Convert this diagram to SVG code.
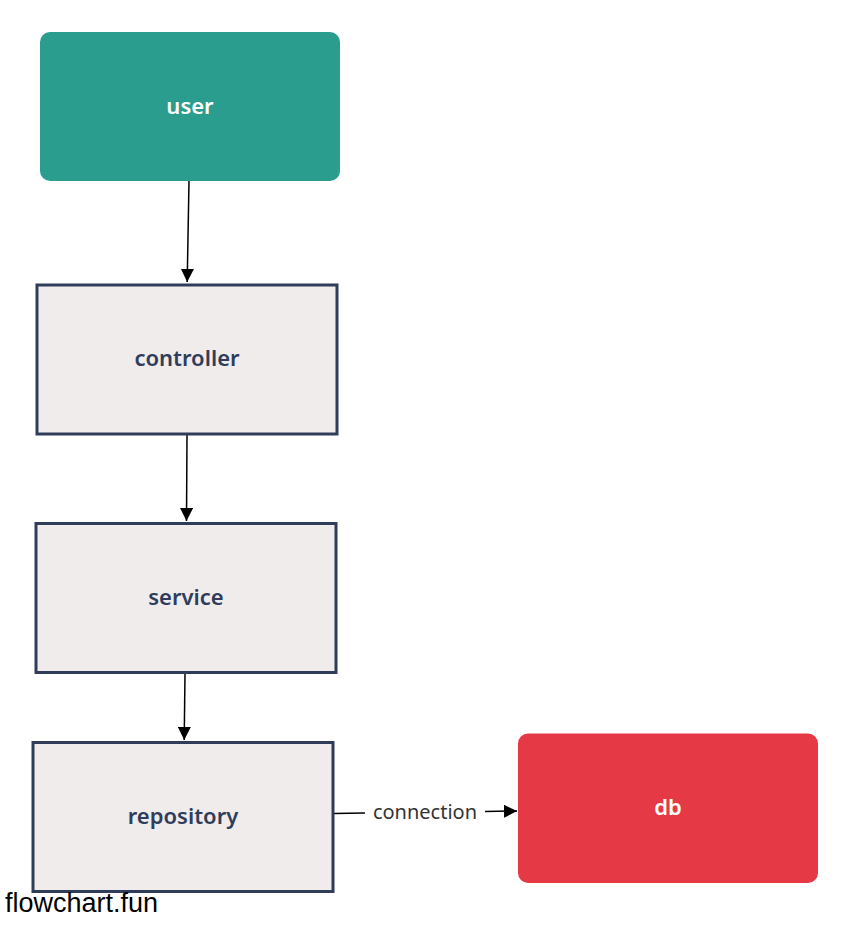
<svg xmlns="http://www.w3.org/2000/svg" width="850" height="925" viewBox="0 0 850 925">
<style>
.lbl{font-family:"Noto Sans","Open Sans",sans-serif;font-weight:600;font-size:22px;text-anchor:middle;dominant-baseline:central}
.box{fill:#f0ecec;stroke:#2f3d5a;stroke-width:3}
.edge{stroke:#000;stroke-width:1.5;fill:none}
</style>
<defs>
<marker id="ah" viewBox="0 0 10 10" refX="10" refY="5" markerWidth="13" markerHeight="13" markerUnits="userSpaceOnUse" orient="auto">
<path d="M0,0 L10,5 L0,10 z" fill="#000"/>
</marker>
</defs>
<rect width="850" height="925" fill="#fff"/>
<g id="edges">
<line class="edge" x1="189" y1="181" x2="187.2" y2="282" marker-end="url(#ah)"/>
<line class="edge" x1="187" y1="435" x2="186.5" y2="521" marker-end="url(#ah)"/>
<line class="edge" x1="185" y1="674" x2="184.2" y2="740" marker-end="url(#ah)"/>
<line class="edge" x1="334" y1="813.5" x2="365" y2="813"/>
<line class="edge" x1="485" y1="811.5" x2="517" y2="811" marker-end="url(#ah)"/>
<text x="425" y="811" font-family="Noto Sans, Open Sans, sans-serif" font-size="20" fill="#333" text-anchor="middle" dominant-baseline="central">connection</text>
</g>
<g id="user">
<rect x="40" y="32" width="300" height="149" rx="10" fill="#2a9d8f"/>
<text class="lbl" x="190" y="105" fill="#fff">user</text>
</g>
<g id="controller">
<rect class="box" x="37" y="285" width="300" height="149"/>
<text class="lbl" x="187" y="357" fill="#2f3d5a">controller</text>
</g>
<g id="service">
<rect class="box" x="36" y="523.5" width="300" height="149"/>
<text class="lbl" x="186" y="596" fill="#2f3d5a">service</text>
</g>
<g id="repository">
<rect class="box" x="33" y="742.5" width="300" height="149"/>
<text class="lbl" x="183" y="815" fill="#2f3d5a">repository</text>
</g>
<g id="db">
<rect x="518" y="733.5" width="300" height="149.5" rx="10" fill="#e63946"/>
<text class="lbl" x="668" y="806" fill="#fff">db</text>
</g>
<text x="5" y="912" font-family="Liberation Sans, Arial, sans-serif" font-size="27" fill="#000">flowchart.fun</text>
</svg>
